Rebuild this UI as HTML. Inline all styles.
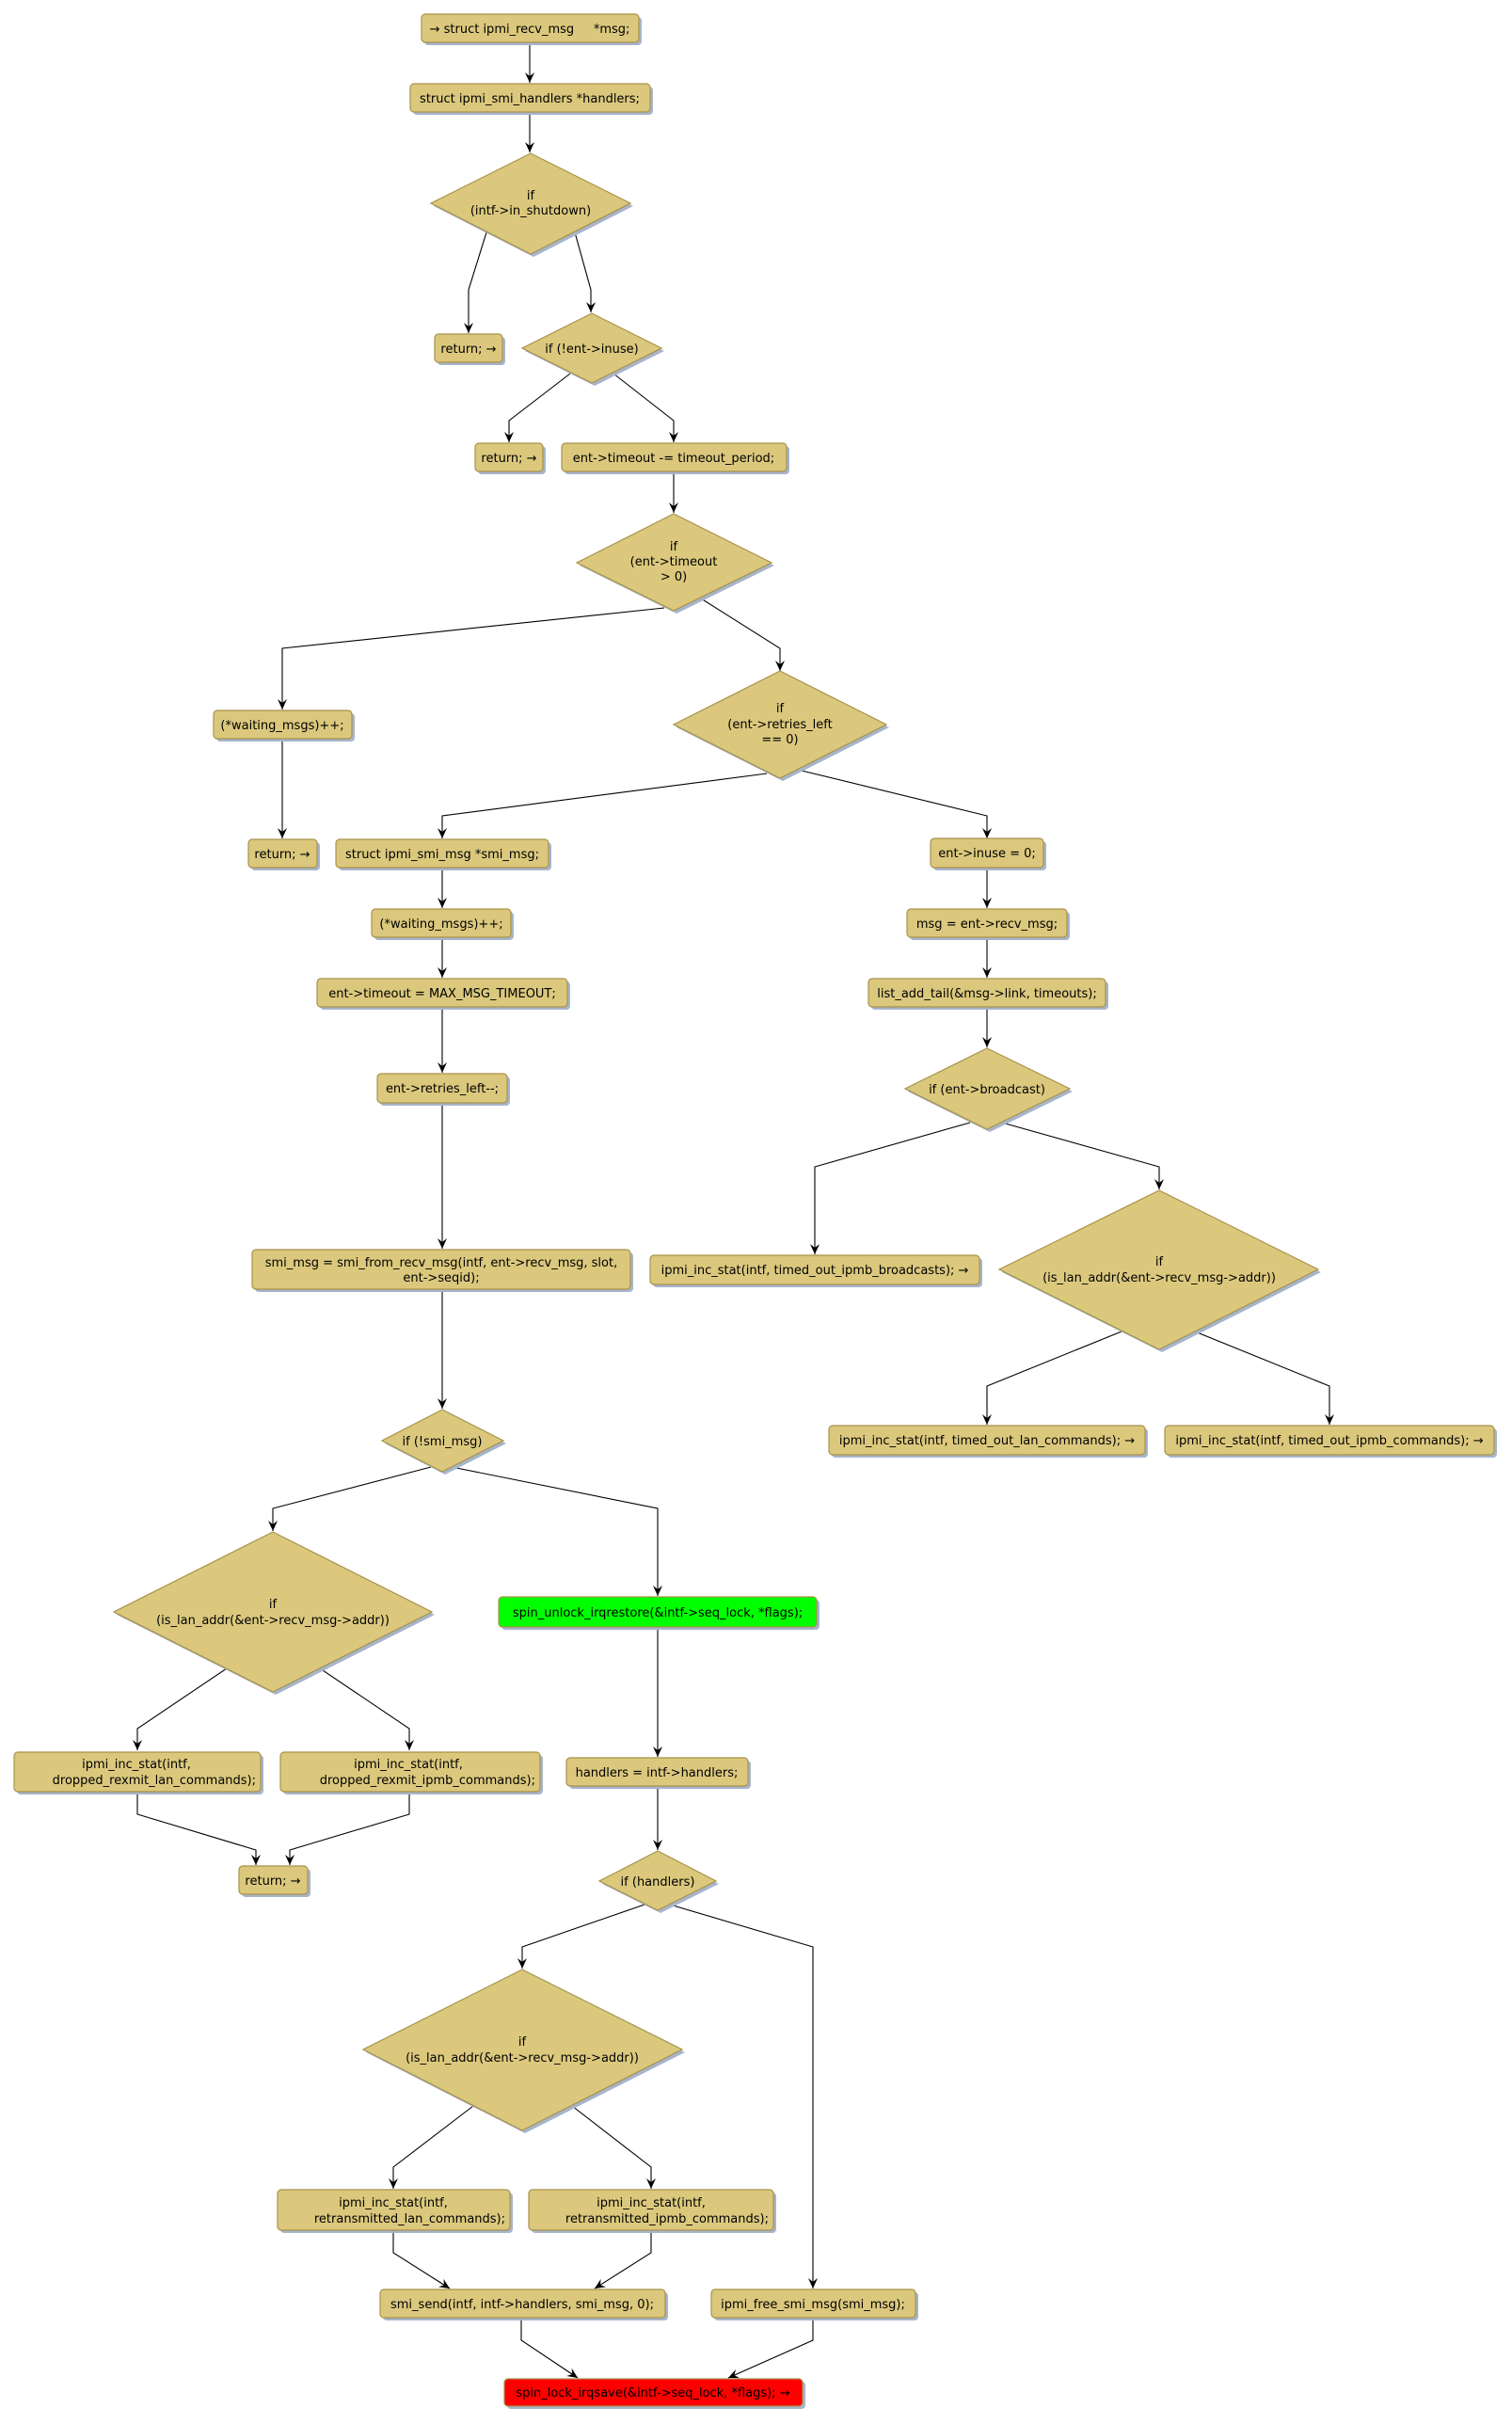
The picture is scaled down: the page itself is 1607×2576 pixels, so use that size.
<!DOCTYPE html>
<html><head><meta charset="utf-8"><style>
html,body{margin:0;padding:0;background:#fff;}
svg{display:block;}
text{font-family:"DejaVu Sans","Liberation Sans",sans-serif;font-size:13px;fill:#000;}
.b{fill:#dbc87d;stroke:#a8924a;stroke-width:1.2;}
.s{fill:#a7b4cc;}
.e{fill:none;stroke:#000;stroke-width:1.1;}
.a{fill:#000;}
</style></head><body>
<svg width="1607" height="2576" viewBox="0 0 1607 2576" xmlns="http://www.w3.org/2000/svg">
<defs>
<marker id="ar" viewBox="0 0 12 12" refX="11" refY="6" markerWidth="12" markerHeight="12" markerUnits="userSpaceOnUse" orient="auto">
<path d="M0,1 L11,6 L0,11 L4,6 Z" fill="#000"/>
</marker>
</defs>

<!-- EDGES -->
<g class="e" marker-end="url(#ar)">
<polyline points="563,45 563,88"/>
<polyline points="563,119 563,162"/>
<polyline points="517,247 498,308 498,354"/>
<polyline points="611,247 628,308 628,332"/>
<polyline points="606,397 541,447 541,470"/>
<polyline points="652,397 716,447 716,470"/>
<polyline points="716,501 716,545"/>
<polyline points="706,646 300,689 300,754"/>
<polyline points="745,636 829,689 829,713"/>
<polyline points="300,785 300,891"/>
<polyline points="815,822 470,867 470,891"/>
<polyline points="848,818 1049,867 1049,891"/>
<polyline points="470,922 470,965"/>
<polyline points="470,996 470,1039"/>
<polyline points="470,1070 470,1140"/>
<polyline points="470,1172 470,1327"/>
<polyline points="470,1370 470,1497"/>
<polyline points="1049,922 1049,965"/>
<polyline points="1049,996 1049,1039"/>
<polyline points="1049,1070 1049,1113"/>
<polyline points="1031,1193 866,1240 866,1333"/>
<polyline points="1065,1193 1232,1240 1232,1264"/>
<polyline points="1192,1415 1049,1473 1049,1514"/>
<polyline points="1270,1415 1413,1473 1413,1514"/>
<polyline points="458,1559 290,1603 290,1627"/>
<polyline points="480,1559 699,1603 699,1696"/>
<polyline points="241,1773 146,1837 146,1860"/>
<polyline points="340,1773 435,1837 435,1860"/>
<polyline points="699,1729 699,1867"/>
<polyline points="146,1904 146,1928 272,1966 272,1982"/>
<polyline points="435,1904 435,1928 308,1966 308,1982"/>
<polyline points="699,1898 699,1966"/>
<polyline points="685,2024 555,2069 555,2092"/>
<polyline points="712,2024 864,2069 864,2432"/>
<polyline points="503,2238 418,2303 418,2326"/>
<polyline points="608,2238 692,2303 692,2326"/>
<polyline points="418,2370 418,2394 478,2432"/>
<polyline points="692,2370 692,2394 632,2432"/>
<polyline points="554,2463 554,2487 614,2527"/>
<polyline points="864,2463 864,2487 774,2527"/>
</g>

<!-- BOXES: shadow then box -->
<g>
<!-- helper pattern: shadow rect offset 3,3 -->
<rect class="s" x="451" y="18" width="231" height="30" rx="4"/><rect class="b" x="448" y="15" width="231" height="30" rx="4"/>
<text x="563" y="35" text-anchor="middle" xml:space="preserve">→ struct ipmi_recv_msg     *msg;</text>

<rect class="s" x="439" y="92" width="255" height="30" rx="4"/><rect class="b" x="436" y="89" width="255" height="30" rx="4"/>
<text x="563" y="109" text-anchor="middle">struct ipmi_smi_handlers *handlers;</text>

<rect class="s" x="465" y="358" width="72" height="30" rx="4"/><rect class="b" x="462" y="355" width="72" height="30" rx="4"/>
<text x="498" y="375" text-anchor="middle">return; →</text>

<rect class="s" x="508" y="474" width="72" height="30" rx="4"/><rect class="b" x="505" y="471" width="72" height="30" rx="4"/>
<text x="541" y="491" text-anchor="middle">return; →</text>

<rect class="s" x="600" y="474" width="239" height="30" rx="4"/><rect class="b" x="597" y="471" width="239" height="30" rx="4"/>
<text x="716" y="491" text-anchor="middle">ent-&gt;timeout -= timeout_period;</text>

<rect class="s" x="230" y="758" width="147" height="30" rx="4"/><rect class="b" x="227" y="755" width="147" height="30" rx="4"/>
<text x="300" y="775" text-anchor="middle">(*waiting_msgs)++;</text>

<rect class="s" x="267" y="895" width="73" height="30" rx="4"/><rect class="b" x="264" y="892" width="73" height="30" rx="4"/>
<text x="300" y="912" text-anchor="middle">return; →</text>

<rect class="s" x="360" y="895" width="226" height="30" rx="4"/><rect class="b" x="357" y="892" width="226" height="30" rx="4"/>
<text x="470" y="912" text-anchor="middle">struct ipmi_smi_msg *smi_msg;</text>

<rect class="s" x="398" y="969" width="148" height="30" rx="4"/><rect class="b" x="395" y="966" width="148" height="30" rx="4"/>
<text x="469" y="986" text-anchor="middle">(*waiting_msgs)++;</text>

<rect class="s" x="340" y="1043" width="266" height="30" rx="4"/><rect class="b" x="337" y="1040" width="266" height="30" rx="4"/>
<text x="470" y="1060" text-anchor="middle">ent-&gt;timeout = MAX_MSG_TIMEOUT;</text>

<rect class="s" x="404" y="1144" width="138" height="31" rx="4"/><rect class="b" x="401" y="1141" width="138" height="31" rx="4"/>
<text x="470" y="1161" text-anchor="middle">ent-&gt;retries_left--;</text>

<rect class="s" x="271" y="1331" width="402" height="42" rx="4"/><rect class="b" x="268" y="1328" width="402" height="42" rx="4"/>
<text x="469" y="1346" text-anchor="middle">smi_msg = smi_from_recv_msg(intf, ent-&gt;recv_msg, slot,</text>
<text x="469" y="1362" text-anchor="middle">ent-&gt;seqid);</text>

<rect class="s" x="992" y="894" width="120" height="31" rx="4"/><rect class="b" x="989" y="891" width="120" height="31" rx="4"/>
<text x="1049" y="911" text-anchor="middle">ent-&gt;inuse = 0;</text>

<rect class="s" x="967" y="969" width="170" height="30" rx="4"/><rect class="b" x="964" y="966" width="170" height="30" rx="4"/>
<text x="1049" y="986" text-anchor="middle">msg = ent-&gt;recv_msg;</text>

<rect class="s" x="926" y="1043" width="252" height="30" rx="4"/><rect class="b" x="923" y="1040" width="252" height="30" rx="4"/>
<text x="1049" y="1060" text-anchor="middle">list_add_tail(&amp;msg-&gt;link, timeouts);</text>

<rect class="s" x="694" y="1337" width="350" height="31" rx="4"/><rect class="b" x="691" y="1334" width="350" height="31" rx="4"/>
<text x="866" y="1354" text-anchor="middle">ipmi_inc_stat(intf, timed_out_ipmb_broadcasts); →</text>

<rect class="s" x="884" y="1518" width="336" height="31" rx="4"/><rect class="b" x="881" y="1515" width="336" height="31" rx="4"/>
<text x="1049" y="1535" text-anchor="middle">ipmi_inc_stat(intf, timed_out_lan_commands); →</text>

<rect class="s" x="1241" y="1518" width="350" height="31" rx="4"/><rect class="b" x="1238" y="1515" width="350" height="31" rx="4"/>
<text x="1413" y="1535" text-anchor="middle">ipmi_inc_stat(intf, timed_out_ipmb_commands); →</text>

<rect class="s" x="533" y="1700" width="338" height="32" rx="4"/><rect x="530" y="1697" width="338" height="32" rx="4" fill="#00ff00" stroke="#a8924a" stroke-width="1.2"/>
<text x="699" y="1718" text-anchor="middle">spin_unlock_irqrestore(&amp;intf-&gt;seq_lock, *flags);</text>

<rect class="s" x="18" y="1865" width="262" height="42" rx="4"/><rect class="b" x="15" y="1862" width="262" height="42" rx="4"/>
<text x="145" y="1879" text-anchor="middle">ipmi_inc_stat(intf,</text>
<text x="272" y="1896" text-anchor="end">dropped_rexmit_lan_commands);</text>

<rect class="s" x="301" y="1865" width="276" height="42" rx="4"/><rect class="b" x="298" y="1862" width="276" height="42" rx="4"/>
<text x="434" y="1879" text-anchor="middle">ipmi_inc_stat(intf,</text>
<text x="569" y="1896" text-anchor="end">dropped_rexmit_ipmb_commands);</text>

<rect class="s" x="605" y="1871" width="193" height="30" rx="4"/><rect class="b" x="602" y="1868" width="193" height="30" rx="4"/>
<text x="698" y="1888" text-anchor="middle">handlers = intf-&gt;handlers;</text>

<rect class="s" x="257" y="1986" width="73" height="30" rx="4"/><rect class="b" x="254" y="1983" width="73" height="30" rx="4"/>
<text x="290" y="2003" text-anchor="middle">return; →</text>

<rect class="s" x="298" y="2330" width="247" height="43" rx="4"/><rect class="b" x="295" y="2327" width="247" height="43" rx="4"/>
<text x="418" y="2345" text-anchor="middle">ipmi_inc_stat(intf,</text>
<text x="537" y="2362" text-anchor="end">retransmitted_lan_commands);</text>

<rect class="s" x="565" y="2330" width="260" height="43" rx="4"/><rect class="b" x="562" y="2327" width="260" height="43" rx="4"/>
<text x="692" y="2345" text-anchor="middle">ipmi_inc_stat(intf,</text>
<text x="817" y="2362" text-anchor="end">retransmitted_ipmb_commands);</text>

<rect class="s" x="407" y="2436" width="303" height="30" rx="4"/><rect class="b" x="404" y="2433" width="303" height="30" rx="4"/>
<text x="555" y="2453" text-anchor="middle">smi_send(intf, intf-&gt;handlers, smi_msg, 0);</text>

<rect class="s" x="759" y="2436" width="217" height="30" rx="4"/><rect class="b" x="756" y="2433" width="217" height="30" rx="4"/>
<text x="864" y="2453" text-anchor="middle">ipmi_free_smi_msg(smi_msg);</text>

<rect class="s" x="539" y="2531" width="317" height="29" rx="4"/><rect x="536" y="2528" width="317" height="29" rx="4" fill="#ff0000" stroke="#a8924a" stroke-width="1.2"/>
<text x="694" y="2547" text-anchor="middle">spin_lock_irqsave(&amp;intf-&gt;seq_lock, *flags); →</text>
</g>

<!-- DIAMONDS -->
<g>
<polygon class="s" points="567,166 673,219 567,273 461,219"/>
<polygon class="b" points="564,163 670,216 564,270 458,216"/>
<text x="564" y="212" text-anchor="middle">if</text>
<text x="564" y="228" text-anchor="middle">(intf-&gt;in_shutdown)</text>

<polygon class="s" points="632,336 706,373 632,410 558,373"/>
<polygon class="b" points="629,333 703,370 629,407 555,370"/>
<text x="629" y="375" text-anchor="middle">if (!ent-&gt;inuse)</text>

<polygon class="s" points="719,549 823,601 719,652 616,601"/>
<polygon class="b" points="716,546 820,598 716,649 613,598"/>
<text x="716" y="585" text-anchor="middle">if</text>
<text x="716" y="601" text-anchor="middle">(ent-&gt;timeout</text>
<text x="716" y="617" text-anchor="middle">&gt; 0)</text>

<polygon class="s" points="832,716 945,773 832,830 719,773"/>
<polygon class="b" points="829,713 942,770 829,827 716,770"/>
<text x="829" y="757" text-anchor="middle">if</text>
<text x="829" y="774" text-anchor="middle">(ent-&gt;retries_left</text>
<text x="829" y="790" text-anchor="middle">== 0)</text>

<polygon class="s" points="1052,1117 1140,1160 1052,1203 965,1160"/>
<polygon class="b" points="1049,1114 1137,1157 1049,1200 962,1157"/>
<text x="1049" y="1162" text-anchor="middle">if (ent-&gt;broadcast)</text>

<polygon class="s" points="1235,1268 1404,1352 1235,1437 1065,1352"/>
<polygon class="b" points="1232,1265 1401,1349 1232,1434 1062,1349"/>
<text x="1232" y="1345" text-anchor="middle">if</text>
<text x="1232" y="1362" text-anchor="middle">(is_lan_addr(&amp;ent-&gt;recv_msg-&gt;addr))</text>

<polygon class="s" points="473,1501 538,1534 473,1567 409,1534"/>
<polygon class="b" points="470,1498 535,1531 470,1564 406,1531"/>
<text x="470" y="1536" text-anchor="middle">if (!smi_msg)</text>

<polygon class="s" points="293,1631 462,1716 293,1801 124,1716"/>
<polygon class="b" points="290,1628 459,1713 290,1798 121,1713"/>
<text x="290" y="1709" text-anchor="middle">if</text>
<text x="290" y="1726" text-anchor="middle">(is_lan_addr(&amp;ent-&gt;recv_msg-&gt;addr))</text>

<polygon class="s" points="702,1970 764,2002 702,2033 640,2002"/>
<polygon class="b" points="699,1967 761,1999 699,2030 637,1999"/>
<text x="699" y="2004" text-anchor="middle">if (handlers)</text>

<polygon class="s" points="558,2096 728,2181 558,2267 389,2181"/>
<polygon class="b" points="555,2093 725,2178 555,2264 386,2178"/>
<text x="555" y="2174" text-anchor="middle">if</text>
<text x="555" y="2191" text-anchor="middle">(is_lan_addr(&amp;ent-&gt;recv_msg-&gt;addr))</text>
</g>
</svg>
</body></html>
